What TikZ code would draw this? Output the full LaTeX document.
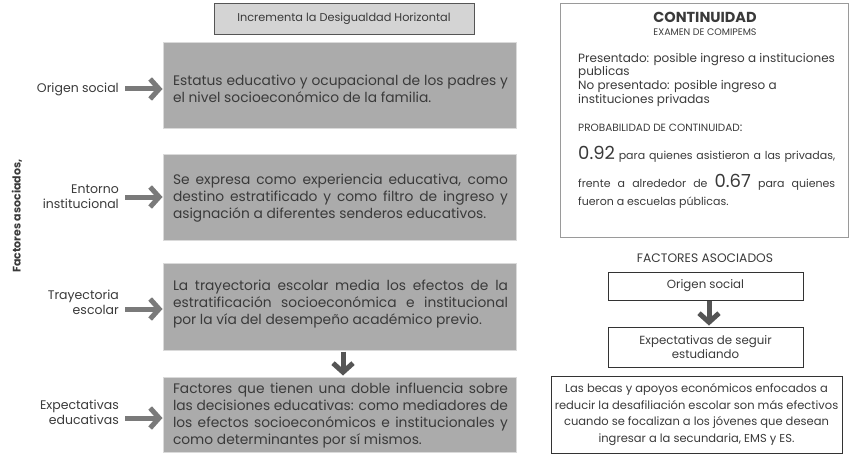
\documentclass[tikz,border=0pt]{standalone}
\usepackage{fontspec}
\setmainfont{Poppins}
\usetikzlibrary{arrows.meta}
\definecolor{boxgray}{HTML}{ABABAB}
\definecolor{boxedge}{HTML}{DADADA}
\definecolor{topfill}{HTML}{D4D4D4}
\definecolor{txt}{HTML}{3A3A3A}
\definecolor{arrgray}{HTML}{7A7A7A}
\definecolor{arrdark}{HTML}{555555}
\definecolor{rboxedge}{HTML}{9A9A9A}
\begin{document}
\begin{tikzpicture}[x=1pt,y=-1pt,
  every node/.style={text=txt, inner sep=0pt},
  gbox/.style={draw=boxedge, fill=boxgray, line width=1pt, minimum width=353pt},
  btext/.style={text width=335pt, align=justify, font=\fontsize{13.8}{17}\selectfont},
  lab/.style={align=right, font=\fontsize{12.5}{15}\selectfont, anchor=east},
  topbox/.style={draw=arrdark, fill=topfill, line width=0.9pt, minimum width=260pt, minimum height=31pt, font=\fontsize{11.3}{13}\selectfont},
  rbox/.style={draw=rboxedge, line width=1pt},
  sbox/.style={draw=black!80, line width=0.9pt, align=center, font=\fontsize{11.8}{14.5}\selectfont},
  rtext/.style={font=\fontsize{12}{13.6}\selectfont},
  stext/.style={font=\fontsize{11}{13}\selectfont},
  garrow/.style={draw=arrgray, line width=5pt, -{Straight Barb[length=9pt,width=20pt,line width=5pt]}},
  darrow/.style={draw=arrdark, line width=5pt, -{Straight Barb[length=9pt,width=20pt,line width=5pt]}}
]
\useasboundingbox (0,0) rectangle (849,468);

% left column
\node[topbox] (top) at (344,18.5) {Incrementa la Desigualdad Horizontal};

\node[gbox, minimum height=86pt] (b1) at (339.5,86) {};
\node[btext] (t1) at (340.5,88.5) {Estatus educativo y ocupacional de los padres y\linebreak el nivel socioeconómico de la familia.};

\node[gbox, minimum height=85pt] (b2) at (339.5,197.5) {};
\node[btext] (t2) at (340.5,198) {Se expresa como experiencia educativa, como\linebreak destino estratificado y como filtro de ingreso y\linebreak asignación a diferentes senderos educativos.};

\node[gbox, minimum height=87pt] (b3) at (339.5,306.5) {};
\node[btext] (t3) at (340.5,304) {La trayectoria escolar media los efectos de la\linebreak estratificación socioeconómica e institucional\linebreak por la vía del desempeño académico previo.};

\node[gbox, minimum height=75pt] (b4) at (339.5,414.5) {};
\node[btext] (t4) at (340.5,416) {Factores que tienen una doble influencia sobre\linebreak las decisiones educativas: como mediadores de\linebreak los efectos socioeconómicos e institucionales y\linebreak como determinantes por sí mismos.};

\node[rotate=90, font=\bfseries\fontsize{11}{13}\selectfont] (fa) at (17,216) {Factores asociados,};

\node[lab] (l1) at (119,89) {Origen social};
\node[lab] (l2) at (119,197) {Entorno\\institucional};
\node[lab] (l3) at (119,302) {Trayectoria\\escolar};
\node[lab] (l4) at (119,412) {Expectativas\\educativas};

\draw[garrow] ([shift={(6,0)}]l1.east) -- (l1.east -| b1.west);
\draw[garrow] ([shift={(6,0)}]l2.east) -- (l2.east -| b2.west);
\draw[garrow] ([shift={(6,7)}]l3.east) -- ([shift={(0,7)}]l3.east -| b3.west);
\draw[garrow] ([shift={(6,6)}]l4.east) -- ([shift={(0,6)}]l4.east -| b4.west);

\draw[darrow] ([shift={(3.5,1)}]b3.south) -- ([shift={(3.5,-1)}]b4.north);

% right column
\node[rbox, minimum width=288pt, minimum height=233pt] (cont) at (704,120.5) {};
\node[font=\bfseries\fontsize{14.5}{16}\selectfont] (ct) at (705,17) {CONTINUIDAD};
\node[font=\fontsize{9.5}{11}\selectfont] (ex) at (705,32) {EXAMEN DE COMIPEMS};
\node[rtext, align=left, anchor=north west] (p1) at (578,53) {Presentado: posible ingreso a instituciones\\publicas\\No presentado: posible ingreso a\\instituciones privadas};
\node[rtext, anchor=base west] (p2) at (578,132) {{\fontsize{10.5}{11}\selectfont PROBABILIDAD DE CONTINUIDAD}:};
\node[stext, anchor=base west] (p3) at (578,160) {\makebox[257pt][s]{{\fontsize{18}{20}\selectfont 0.92} para quienes asistieron a las privadas,}};
\node[stext, anchor=base west] (p4) at (578,188) {\makebox[257pt][s]{frente a alrededor de {\fontsize{18}{20}\selectfont 0.67} para quienes}};
\node[stext, anchor=base west] (p5) at (578,205) {fueron a escuelas públicas.};

\node[font=\fontsize{12.3}{13}\selectfont] (fac) at (705,258) {FACTORES ASOCIADOS};
\node[sbox, minimum width=195pt, minimum height=28pt] (o2) at (705.5,286) {Origen social};
\node[sbox, minimum width=195pt, minimum height=40pt] (e2) at (705.5,347) {Expectativas de seguir\\estudiando};
\draw[darrow] ([shift={(3.5,1)}]o2.south) -- ([shift={(3.5,-1)}]e2.north);
\node[sbox, minimum width=291pt, minimum height=77pt, font=\fontsize{11.5}{16.5}\selectfont] (beca) at (696.5,414.5) {Las becas y apoyos económicos enfocados a\\reducir la desafiliación escolar son más efectivos\\cuando se focalizan a los jóvenes que desean\\ingresar a la secundaria, EMS y ES.};
\end{tikzpicture}
\end{document}
